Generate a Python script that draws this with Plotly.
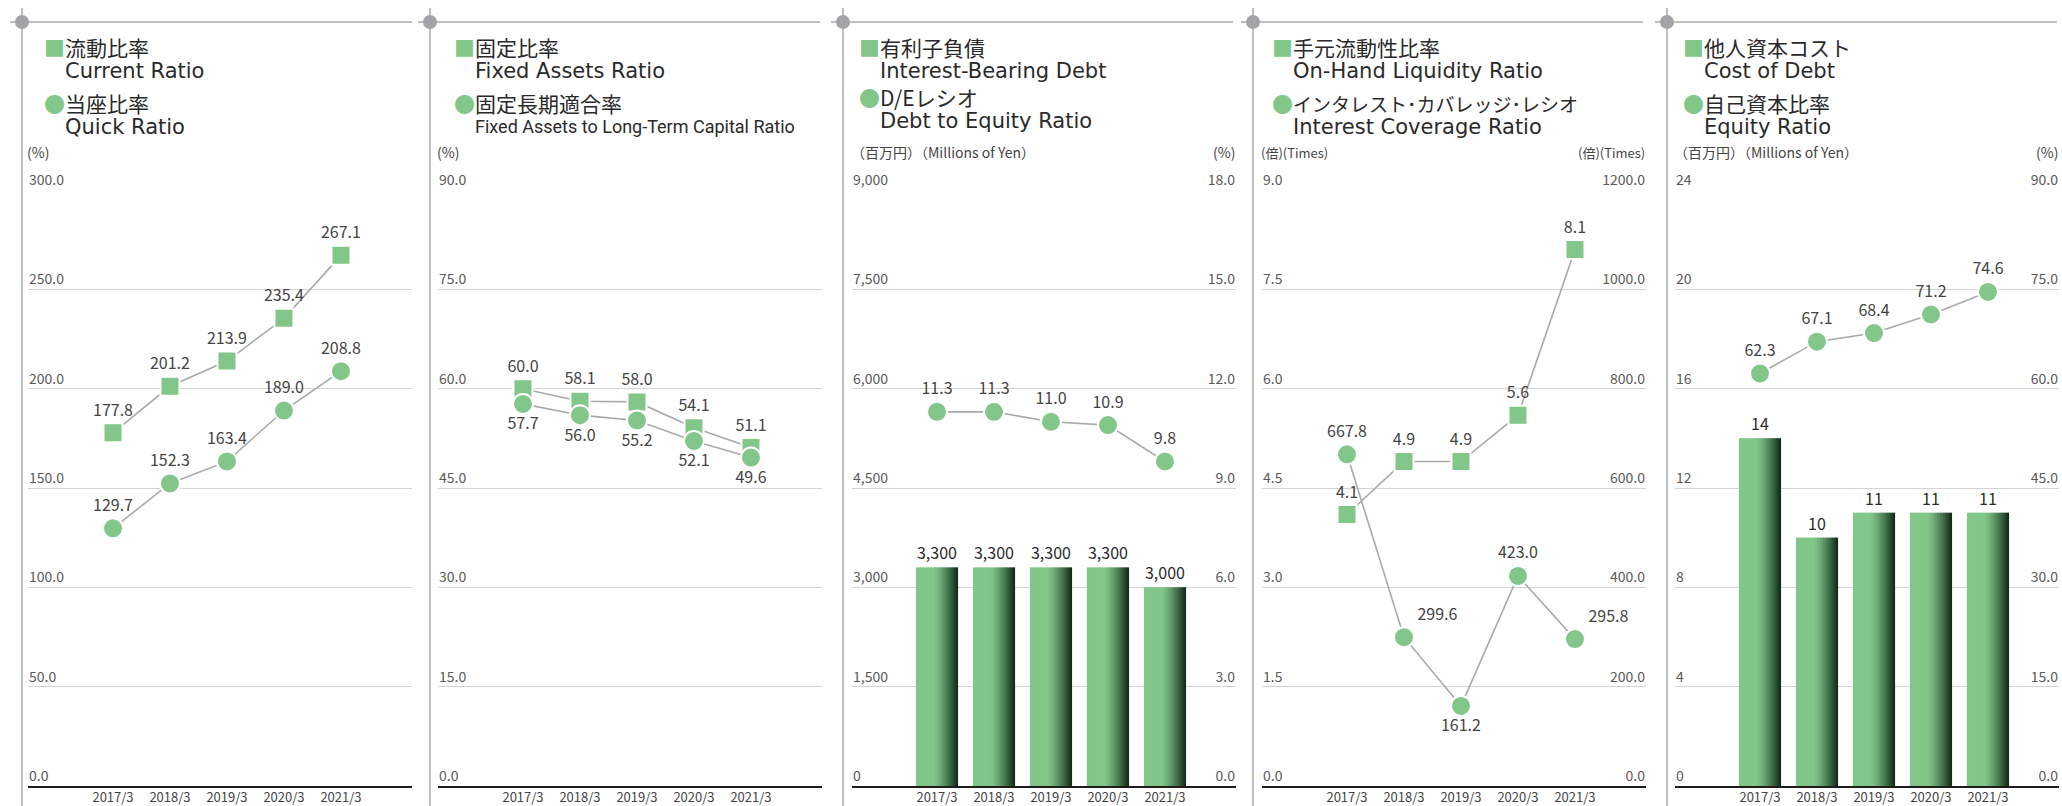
import plotly.graph_objects as go

W, H = 2062, 806

# ---------------- data ----------------
years = ["2017/3", "2018/3", "2019/3", "2020/3", "2021/3"]
cats = [0, 1, 2, 3, 4]

current_ratio = [177.8, 201.2, 213.9, 235.4, 267.1]
quick_ratio = [129.7, 152.3, 163.4, 189.0, 208.8]

fixed_assets_ratio = [60.0, 58.1, 58.0, 54.1, 51.1]
fixed_lt_capital_ratio = [57.7, 56.0, 55.2, 52.1, 49.6]

interest_bearing_debt = [3300, 3300, 3300, 3300, 3000]
de_ratio = [11.3, 11.3, 11.0, 10.9, 9.8]

on_hand_liquidity = [4.1, 4.9, 4.9, 5.6, 8.1]
interest_coverage = [667.8, 299.6, 161.2, 423.0, 295.8]

cost_of_debt = [14, 10, 11, 11, 11]
equity_ratio = [62.3, 67.1, 68.4, 71.2, 74.6]

# left axes: (max, step, format)
left_axes = [(300, 50, ".1f"), (90, 15, ".1f"), (9000, 1500, ",d"), (9, 1.5, ".1f"), (24, 4, "d")]
# right axes: (panel, max, step, format)
right_axes = [(3, 18, 3, ".1f"), (4, 1200, 200, ".1f"), (5, 90, 15, ".1f")]

titles = [
    ("流動比率", "Current Ratio", "当座比率", "Quick Ratio"),
    ("固定比率", "Fixed Assets Ratio", "固定長期適合率", "Fixed Assets to Long-Term Capital Ratio"),
    ("有利子負債", "Interest-Bearing Debt", "D/Eレシオ", "Debt to Equity Ratio"),
    ("手元流動性比率", "On-Hand Liquidity Ratio", "インタレスト･カバレッジ･レシオ", "Interest Coverage Ratio"),
    ("他人資本コスト", "Cost of Debt", "自己資本比率", "Equity Ratio"),
]
units_left = ["(%)", "(%)", "（百万円）（Millions of Yen）", "(倍)(Times)", "（百万円）（Millions of Yen）"]
units_right = [None, None, "(%)", "(倍)(Times)", "(%)"]

# ---------------- styling / geometry ----------------
GREEN = "#82C68A"
LGRAY = "#A9A9A9"
JP = "Noto Sans CJK JP"
EN = "DejaVu Sans"

dots = [22, 430, 843, 1253, 1667]
plot_left = [28, 438, 852, 1262, 1675]
PW = 384
TOP, BOT = 190, 786
XR = [-1.491, 5.246]


def fx(p):
    return p / W


def fy(p):
    return 1 - p / H


fig = go.Figure()


def line_trace(vals, xa, ya, symbol, size, tpos, name):
    return go.Scatter(
        x=cats, y=vals, xaxis=xa, yaxis=ya, name=name,
        mode="lines+markers+text",
        line=dict(color=LGRAY, width=1.6),
        marker=dict(symbol=symbol, size=size, color=GREEN, line=dict(color="white", width=2)),
        texttemplate="%{y:.1f}", textposition=tpos,
        textfont=dict(family=JP, size=16, color="#444444"),
        cliponaxis=False, hoverinfo="skip", showlegend=False,
    )


def grad_color(t):
    light = (130, 198, 138)
    dark = (12, 38, 18)
    if t < 0.42:
        s = 0.0
    else:
        s = ((t - 0.42) / 0.58) ** 1.3
    c = [round(light[i] + (dark[i] - light[i]) * s) for i in range(3)]
    return "rgb(%d,%d,%d)" % tuple(c)


def gradient_bars(vals, xa, ya, fmt):
    n = 28
    bw = 0.74
    sw = bw / n
    for i in range(n):
        t = (i + 0.5) / n
        fig.add_trace(go.Bar(
            x=cats, y=vals, xaxis=xa, yaxis=ya,
            width=sw * 1.6 if i < n - 1 else sw, offset=-bw / 2 + i * sw,
            marker=dict(color=grad_color(t), line=dict(width=0)),
            hoverinfo="skip", showlegend=False,
        ))
    fig.add_trace(go.Bar(
        x=cats, y=vals, xaxis=xa, yaxis=ya, width=bw, offset=-bw / 2,
        marker=dict(color="rgba(0,0,0,0)", line=dict(width=0)),
        texttemplate=fmt, textposition="outside", constraintext="none",
        outsidetextfont=dict(family=JP, size=16, color="#2a2a2a"),
        cliponaxis=False, hoverinfo="skip", showlegend=False,
    ))


# Panel 1
fig.add_trace(line_trace(current_ratio, "x", "y", "square", 19, "top center", "Current Ratio"))
fig.add_trace(line_trace(quick_ratio, "x", "y", "circle", 20, "top center", "Quick Ratio"))
# Panel 2
fig.add_trace(line_trace(fixed_assets_ratio, "x2", "y2", "square", 19, "top center", "Fixed Assets Ratio"))
fig.add_trace(line_trace(fixed_lt_capital_ratio, "x2", "y2", "circle", 20, "bottom center", "Fixed LT"))
# Panel 3
gradient_bars(interest_bearing_debt, "x3", "y3", "%{y:,}")
fig.add_trace(line_trace(de_ratio, "x3", "y6", "circle", 20, "top center", "D/E"))
# Panel 4
fig.add_trace(line_trace(on_hand_liquidity, "x4", "y4", "square", 19, "top center", "On-Hand"))
fig.add_trace(line_trace(interest_coverage, "x4", "y7", "circle", 20,
                         ["top center", "top right", "bottom center", "top center", "top right"], "ICR"))
# Panel 5
gradient_bars(cost_of_debt, "x5", "y5", "%{y}")
fig.add_trace(line_trace(equity_ratio, "x5", "y8", "circle", 20, "top center", "Equity"))

layout = dict(
    width=W, height=H, autosize=False,
    margin=dict(l=0, r=0, t=0, b=0, pad=0, autoexpand=False),
    paper_bgcolor="white", plot_bgcolor="rgba(0,0,0,0)",
    barmode="overlay", showlegend=False,
    font=dict(family=JP, color="#333333"),
)

tickfont = dict(family=JP, size=14, color="#5a5a5a")
for k in range(5):
    sx = "" if k == 0 else str(k + 1)
    L = plot_left[k]
    layout["xaxis" + sx] = dict(
        domain=[fx(L), fx(L + PW)], anchor="y" + sx, range=XR, automargin=False,
        tickmode="array", tickvals=cats, ticktext=years,
        showline=True, linecolor="#1e1e1e", linewidth=2,
        showgrid=False, zeroline=False, ticks="", ticklabelstandoff=-2,
        tickfont=dict(family=JP, size=13, color="#444444"), fixedrange=True,
    )
    mx, st, fm = left_axes[k]
    layout["yaxis" + sx] = dict(
        domain=[fy(BOT), fy(TOP)], anchor="x" + sx, range=[0, mx], dtick=st, tick0=0,
        automargin=False,
        tickformat=fm, showgrid=True, gridcolor="#D3D3D3", gridwidth=1,
        zeroline=False, showline=False, ticks="",
        ticklabelposition="inside", ticklabelshift=-10, ticklabeloverflow="allow",
        ticklabelstandoff=-2,
        tickfont=tickfont, fixedrange=True,
    )

for idx, (p, mx, st, fm) in enumerate(right_axes):
    name = "yaxis" + str(6 + idx)
    layout[name] = dict(
        overlaying="y" + str(p), anchor="x" + str(p), side="right", automargin=False,
        range=[0, mx], dtick=st, tick0=0, tickformat=fm,
        showgrid=False, zeroline=False, showline=False, ticks="",
        ticklabelposition="inside", ticklabelshift=-10, ticklabeloverflow="allow",
        ticklabelstandoff=-2,
        tickfont=tickfont, fixedrange=True,
    )

# decorations
shapes = []
for d in dots:
    shapes.append(dict(type="line", xref="paper", yref="paper", x0=fx(d - 12), x1=fx(d + 390),
                       y0=fy(22), y1=fy(22), line=dict(color=LGRAY, width=1.5), layer="below"))
    shapes.append(dict(type="line", xref="paper", yref="paper", x0=fx(d), x1=fx(d),
                       y0=fy(8), y1=fy(806), line=dict(color=LGRAY, width=1.5), layer="below"))
    shapes.append(dict(type="circle", xref="paper", yref="paper", x0=fx(d - 7), x1=fx(d + 7),
                       y0=fy(29), y1=fy(15), fillcolor="#A3A4A8", line=dict(width=0), layer="above"))
layout["shapes"] = shapes

# annotations (titles + units)
anns = []
mark_x = [42, 452, 857, 1270, 1681]
title_y = [(47, 71, 103, 127), (47, 71, 103, 127), (47, 71, 97, 121), (47, 71, 103, 127), (47, 71, 103, 127)]
for k in range(5):
    jp1, en1, jp2, en2 = titles[k]
    y1, y2, y3, y4 = title_y[k]
    mx0 = mark_x[k]
    jp2size = 19 if k == 3 else 21
    anns.append(dict(x=fx(mx0), y=fy(y1), xref="paper", yref="paper", xanchor="left", yanchor="middle",
                     showarrow=False, text='<span style="color:%s">■</span>%s' % (GREEN, jp1),
                     font=dict(family=JP, size=21, color="#2a2a2a")))
    anns.append(dict(x=fx(mx0 + 21), y=fy(y2), xref="paper", yref="paper", xanchor="left", yanchor="middle",
                     showarrow=False, text=en1, font=dict(family=EN, size=21, color="#2a2a2a")))
    anns.append(dict(x=fx(mx0), y=fy(y3), xref="paper", yref="paper", xanchor="left", yanchor="middle",
                     showarrow=False, text='<span style="color:%s;font-size:21px">●</span>%s' % (GREEN, jp2),
                     font=dict(family=JP, size=jp2size, color="#2a2a2a")))
    en2font = dict(family="Roboto", size=18, color="#2a2a2a") if k == 1 \
        else dict(family=EN, size=21, color="#2a2a2a")
    anns.append(dict(x=fx(mx0 + 21), y=fy(y4), xref="paper", yref="paper", xanchor="left", yanchor="middle",
                     showarrow=False, text=en2, font=en2font))
    # units
    ul = units_left[k]
    usz = 13 if "Times" in ul else 14
    anns.append(dict(x=fx(plot_left[k] - 3), y=fy(152), xref="paper", yref="paper", xanchor="left",
                     yanchor="middle", showarrow=False, text=ul,
                     font=dict(family=JP, size=usz, color="#444444")))
    ur = units_right[k]
    if ur:
        usz = 13 if "Times" in ur else 14
        anns.append(dict(x=fx(plot_left[k] + PW + 1), y=fy(152), xref="paper", yref="paper", xanchor="right",
                         yanchor="middle", showarrow=False, text=ur,
                         font=dict(family=JP, size=usz, color="#444444")))
layout["annotations"] = anns

fig.update_layout(**layout)

fig.write_html("out.html", include_plotlyjs=True, config={"displayModeBar": False, "staticPlot": True},
               post_script="document.body.style.margin='0';document.body.style.overflow='hidden';")
